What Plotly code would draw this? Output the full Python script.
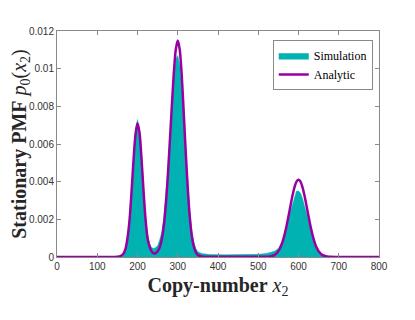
import plotly.graph_objects as go

# copy-number grid
copy_number = [0, 100, 150,
               160, 165, 170, 175, 180, 185, 190, 195, 200, 205, 210, 215, 220, 225, 230,
               235, 240, 245, 250, 255, 260, 265, 270, 275, 280, 285, 290, 295, 300, 305,
               310, 315, 320, 325, 330, 335, 340, 345, 350,
               360, 380, 420, 460, 500, 520, 530, 540, 550,
               560, 565, 570, 575, 580, 585, 590, 595, 600, 605, 610, 615, 620, 625, 630,
               635, 640, 645, 650,
               660, 670, 680, 700, 800]

simulation = [0, 0, 0,
              0.00005, 0.00015, 0.0004, 0.001, 0.002, 0.0035, 0.0053, 0.0068, 0.0073, 0.0067, 0.0053, 0.0036, 0.0021, 0.0012, 0.0007,
              0.0005, 0.00045, 0.0005, 0.0006, 0.0009, 0.0013, 0.002, 0.0031, 0.0045, 0.0062, 0.0079, 0.0095, 0.0105, 0.0107, 0.0102,
              0.009, 0.0073, 0.0055, 0.0038, 0.0024, 0.0014, 0.0008, 0.00045, 0.00028,
              0.00018, 0.00013, 0.00012, 0.00012, 0.00014, 0.00018, 0.00024, 0.0003, 0.00045,
              0.00085, 0.00115, 0.0015, 0.0019, 0.0024, 0.0028, 0.0032, 0.0035, 0.0035, 0.0034, 0.0031, 0.0027, 0.0023, 0.0018, 0.0014,
              0.001, 0.0007, 0.00045, 0.0003,
              0.00012, 0.00005, 0.00002, 0, 0]

analytic = [0, 0, 0.00001,
            0.00008, 0.00017, 0.00042, 0.00098, 0.0019, 0.0034, 0.0051, 0.0065, 0.0071, 0.0066, 0.0052, 0.0035, 0.002, 0.001, 0.00055,
            0.0003, 0.0002, 0.0002, 0.0003, 0.0005, 0.0009, 0.0016, 0.0027, 0.0042, 0.006, 0.0079, 0.0097, 0.011, 0.0115, 0.011,
            0.0096, 0.0076, 0.0055, 0.0036, 0.0021, 0.0011, 0.00055, 0.00025, 0.0001,
            0.00003, 0.00001, 0.00001, 0.00001, 0.00001, 0.00001, 0.00003, 0.0001, 0.00031,
            0.00078, 0.00116, 0.00162, 0.00215, 0.00271, 0.00325, 0.0037, 0.004, 0.0041, 0.004, 0.0037, 0.00325, 0.00271, 0.00215, 0.00162,
            0.00116, 0.00078, 0.0005, 0.00031,
            0.0001, 0.00003, 0.00001, 0, 0]

x_ticks = [0, 100, 200, 300, 400, 500, 600, 700, 800]
y_ticks = [0, 0.002, 0.004, 0.006, 0.008, 0.01, 0.012]
y_tick_labels = ["0", "0.002", "0.004", "0.006", "0.008", "0.01", "0.012"]

teal = "rgb(0,178,178)"
purple = "rgb(153,0,160)"

fig = go.Figure()

fig.add_trace(go.Scatter(
    x=copy_number, y=simulation, name="Simulation",
    mode="lines", fill="tozeroy", fillcolor=teal,
    line=dict(color=teal, width=0.5),
))

fig.add_trace(go.Scatter(
    x=copy_number, y=analytic, name="Analytic",
    mode="lines", line=dict(color=purple, width=2.5, shape="spline", smoothing=0.8),
))

axis_style = dict(
    showline=True, mirror="ticks", linecolor="#8a8a8a", linewidth=1,
    ticks="inside", ticklen=4, tickcolor="#8a8a8a",
    showgrid=False, zeroline=False, automargin=False,
    tickfont=dict(family="Liberation Sans, Arial", size=10, color="#333333"),
)
title_font = dict(family="Liberation Serif, serif", size=20, color="#262626")

fig.update_xaxes(
    range=[0, 800], tickvals=x_ticks, **axis_style,
    title=dict(text="<b>Copy-number</b> <i>x</i><sub>2</sub>", font=title_font, standoff=6),
)
fig.update_yaxes(
    range=[0, 0.012], tickvals=y_ticks, ticktext=y_tick_labels, **axis_style,
    title=dict(text="<b>Stationary PMF</b> <i>p</i><sub>0</sub>(<i>x</i><sub>2</sub>)",
               font=title_font, standoff=2),
)

# the page body adds an 8px offset, so the figure is sized a little smaller
fig.update_layout(
    width=407, height=312,
    margin=dict(l=49, r=36, t=23, b=63),
    plot_bgcolor="white", paper_bgcolor="white",
    showlegend=True,
    legend=dict(
        x=0.67, y=0.96, xanchor="left", yanchor="top",
        bgcolor="white", bordercolor="#8a8a8a", borderwidth=1,
        font=dict(family="Liberation Serif, serif", size=12, color="#000000"),
        tracegroupgap=0, itemwidth=30,
    ),
)

fig.write_html("out.html")
